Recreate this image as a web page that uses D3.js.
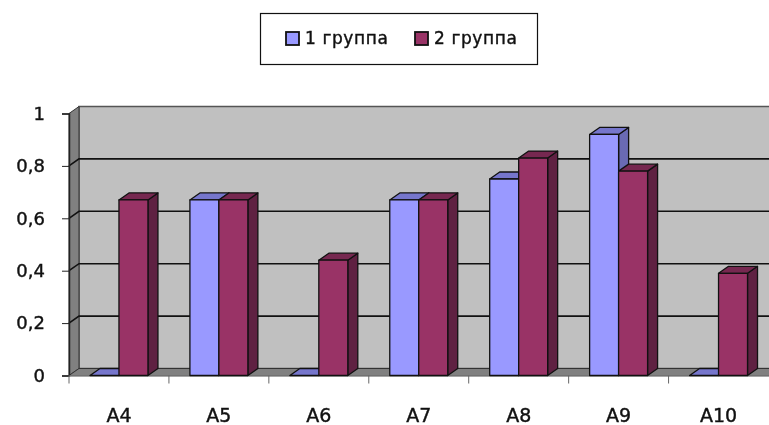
<!DOCTYPE html>
<html>
<head>
<meta charset="utf-8">
<script src="https://cdn.jsdelivr.net/npm/d3@7"></script>
<style>
html, body { margin: 0; padding: 0; background: #fff; }
svg { display: block; filter: blur(0.4px); }
text { font-family: "DejaVu Sans", sans-serif; fill: #111; stroke: #111; stroke-width: 0.4px; }
</style>
</head>
<body>
<script>
//////////////// Datas ////////////////////
var categories = ["A4", "A5", "A6", "A7", "A8", "A9", "A10"];
var seriesNames = ["1 группа", "2 группа"];
var group1 = [0, 0.67, 0, 0.67, 0.75, 0.92, 0];
var group2 = [0.67, 0.67, 0.44, 0.67, 0.83, 0.78, 0.39];
var yTicks = [0, 0.2, 0.4, 0.6, 0.8, 1];

//////////////// Variables ////////////////////
var width = 769, height = 425;
var left = 69, right = 768.5, top0 = 113.5, bottom = 375.5;
var depthX = 10, depthY = 7;
var colors = [
  {front: "#9999ff", top: "#7676cc", side: "#6a6ab4"},
  {front: "#993366", top: "#762850", side: "#5f2142"}
];

//////////////// Scaling ////////////
var x = d3.scaleBand().domain(categories).range([left, right]);
var xGroup = d3.scaleBand().domain(d3.range(2)).range([x.bandwidth() * 0.21, x.bandwidth() * 0.79]);
var y = d3.scaleLinear().domain([0, 1]).range([bottom, top0]);

//////////////// SVG ////////////////////
var svg = d3.select("body").append("svg")
  .attr("width", width)
  .attr("height", height);

function poly(points) {
  return points.map(function(p) { return p.join(","); }).join(" ");
}

//////////////// Wände ////////////////////
var wallRight = width + 2;
svg.append("polygon") // Rückwand
  .attr("points", poly([[left + depthX, y(1) - depthY], [wallRight, y(1) - depthY], [wallRight, y(0) - depthY], [left + depthX, y(0) - depthY]]))
  .attr("fill", "#c0c0c0")
  .attr("stroke", "#555")
  .attr("stroke-width", 1.4);
svg.append("polygon") // Seitenwand
  .attr("points", poly([[left, y(1)], [left + depthX, y(1) - depthY], [left + depthX, y(0) - depthY], [left, y(0)]]))
  .attr("fill", "#808080")
  .attr("stroke", "#333");
svg.append("polygon") // Boden
  .attr("points", poly([[left, y(0)], [left + depthX, y(0) - depthY], [wallRight, y(0) - depthY], [wallRight, y(0)]]))
  .attr("fill", "#808080")
  .attr("stroke", "#333");

//////////////// Gitter ////////////////////
var grid = yTicks.filter(function(d) { return d > 0 && d < 1; });
svg.selectAll("path.grid")
  .data(grid)
  .enter()
  .append("path")
  .attr("class", "grid")
  .attr("d", function(d) {
    return "M" + left + "," + y(d) + "L" + (left + depthX) + "," + (y(d) - depthY) + "L" + wallRight + "," + (y(d) - depthY);
  })
  .attr("fill", "none")
  .attr("stroke", "#111")
  .attr("stroke-width", 1.6);

//////////////// Axen ////////////////////
var yAxis = d3.axisLeft(y)
  .tickValues(yTicks)
  .tickSize(7)
  .tickPadding(17)
  .tickFormat(function(d) { return String(d).replace(".", ","); });
var yG = svg.append("g")
  .attr("transform", "translate(" + left + ",0)")
  .call(yAxis);
yG.select(".domain").attr("stroke", "#222").attr("stroke-width", 1.5);
yG.selectAll("line").attr("stroke", "#222");
yG.selectAll("text").attr("font-size", 18).attr("font-family", '"DejaVu Sans"').attr("fill", "#111");

var xAxis = d3.axisBottom(x).tickSize(0).tickPadding(33);
var xG = svg.append("g")
  .attr("transform", "translate(0," + bottom + ")")
  .call(xAxis);
xG.select(".domain").attr("stroke", "#888").attr("stroke-width", 1.5);
xG.selectAll("text").attr("font-size", 19).attr("font-family", '"DejaVu Sans"').attr("fill", "#111");
svg.selectAll("line.xtick")
  .data(categories)
  .enter()
  .append("line")
  .attr("class", "xtick")
  .attr("x1", function(d) { return x(d); })
  .attr("x2", function(d) { return x(d); })
  .attr("y1", bottom)
  .attr("y2", bottom + 8)
  .attr("stroke", "#666");

//////////////// Säulen ////////////////////
var bars = [];
categories.forEach(function(c, i) {
  bars.push({cat: c, s: 0, v: group1[i]});
  bars.push({cat: c, s: 1, v: group2[i]});
});
var bw = xGroup.bandwidth();

var barG = svg.selectAll("g.bar")
  .data(bars)
  .enter()
  .append("g")
  .attr("class", "bar")
  .attr("stroke", "#111")
  .attr("stroke-width", 1.3)
  .attr("stroke-linejoin", "round");

barG.filter(function(d) { return d.v > 0; }).append("polygon") // Seite
  .attr("points", function(d) {
    var x1 = x(d.cat) + xGroup(d.s) + bw;
    return poly([[x1, y(d.v)], [x1 + depthX, y(d.v) - depthY], [x1 + depthX, y(0) - depthY], [x1, y(0)]]);
  })
  .attr("fill", function(d) { return colors[d.s].side; });
barG.append("polygon") // Deckel
  .attr("points", function(d) {
    var x0 = x(d.cat) + xGroup(d.s);
    return poly([[x0, y(d.v)], [x0 + depthX, y(d.v) - depthY], [x0 + bw + depthX, y(d.v) - depthY], [x0 + bw, y(d.v)]]);
  })
  .attr("fill", function(d) { return colors[d.s].top; });
barG.filter(function(d) { return d.v > 0; }).append("rect") // Front
  .attr("x", function(d) { return x(d.cat) + xGroup(d.s); })
  .attr("y", function(d) { return y(d.v); })
  .attr("width", bw)
  .attr("height", function(d) { return y(0) - y(d.v); })
  .attr("fill", function(d) { return colors[d.s].front; });

//////////////// Legende ////////////////////
var legend = svg.append("g");
legend.append("rect")
  .attr("x", 260.5).attr("y", 13.5)
  .attr("width", 277).attr("height", 51)
  .attr("fill", "#fff").attr("stroke", "#111").attr("stroke-width", 1.2);
var legendX = d3.scaleOrdinal().domain(seriesNames).range([286, 415]);
var items = legend.selectAll("g.item")
  .data(seriesNames)
  .enter()
  .append("g")
  .attr("class", "item")
  .attr("transform", function(d) { return "translate(" + legendX(d) + ",32)"; });
items.append("rect")
  .attr("width", 13).attr("height", 13)
  .attr("fill", function(d, i) { return colors[i].front; })
  .attr("stroke", "#111").attr("stroke-width", 1.8);
items.append("text")
  .attr("x", 19).attr("y", 12)
  .attr("font-size", 17)
  .attr("letter-spacing", 0.6)
  .text(function(d) { return d; });
</script>
</body>
</html>
